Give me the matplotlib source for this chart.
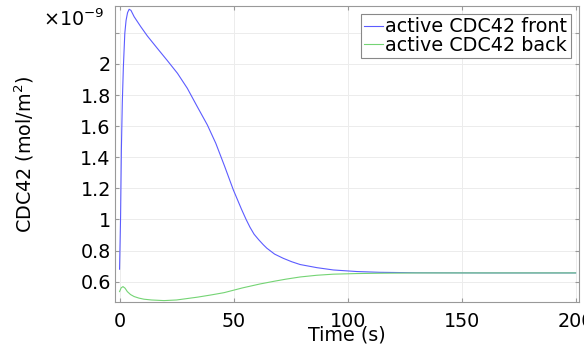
import matplotlib
matplotlib.use("Agg")
import matplotlib.pyplot as plt

# time (s) and concentrations (x 1e-9 mol/m^2)
t_front = [0, 0.45, 0.8, 1.2, 1.67, 2.3, 2.85, 3.5, 4.2, 5.0, 6.4, 9.3, 12.2,
           16.6, 21, 25.4, 29.7, 34.1, 38.5, 42.2, 46, 49.9, 53.5, 55.5, 57.2,
           59, 61, 63, 64.6, 68, 71.8, 75.5, 79.2, 86.5, 93.8, 104, 114, 130,
           160, 200]
front = [0.68, 1.02, 1.45, 1.75, 1.98, 2.197, 2.28, 2.33, 2.352, 2.345, 2.304,
         2.24, 2.18, 2.10, 2.021, 1.94, 1.844, 1.725, 1.608, 1.49, 1.345,
         1.19, 1.065, 1.0, 0.95, 0.905, 0.87, 0.838, 0.815, 0.777, 0.75,
         0.728, 0.71, 0.69, 0.675, 0.665, 0.66, 0.657, 0.656, 0.656]

t_back = [0, 0.7, 1.5, 2.4, 3.4, 4.8, 6.4, 8.5, 10.7, 14, 19.5, 25, 34.1, 40,
          45.8, 54, 61.6, 68, 73, 79.2, 86.5, 93.8, 104, 114, 130, 160, 200]
back = [0.536, 0.56, 0.568, 0.558, 0.536, 0.517, 0.504, 0.494, 0.487, 0.482,
        0.478, 0.482, 0.5, 0.514, 0.529, 0.56, 0.585, 0.603, 0.616, 0.63,
        0.641, 0.648, 0.652, 0.654, 0.656, 0.656, 0.656]

xticks = [0, 50, 100, 150, 200]
yticks = [0.6, 0.8, 1.0, 1.2, 1.4, 1.6, 1.8, 2.0, 2.2]
ytick_labels = ['0.6', '0.8', '1', '1.2', '1.4', '1.6', '1.8', '2', '']

fs = 13.8
fig = plt.figure(figsize=(5.84, 3.52), dpi=100)
ax = fig.add_axes([115/584, 1 - 302/352, 464/584, 296/352])

ax.plot(t_front, front, color='#5c5cff', lw=0.8, label='active CDC42 front')
ax.plot(t_back, back, color='#74d474', lw=0.8, label='active CDC42 back')

ax.set_xlim(-2, 201.5)
ax.set_ylim(0.469, 2.373)
ax.set_xticks(xticks)
ax.set_yticks(yticks)
ax.set_yticklabels(ytick_labels)
ax.grid(True, color='#ececec', lw=0.7)
ax.tick_params(direction='in', length=3, color='#999999', labelsize=fs,
               top=True, right=True)
ax.tick_params(axis='x', pad=7)
ax.tick_params(axis='y', pad=3)
for s in ax.spines.values():
    s.set_color('#999999')

ax.set_xlabel('Time (s)', fontsize=fs)
ax.xaxis.set_label_coords(0.5, -0.08)
ax.set_ylabel('CDC42 (mol/m$^2$)', fontsize=fs)
ax.yaxis.set_label_coords(-0.17, 0.5)

fig.text(104/584, 1 - 26/352, r'$\times10^{-9}$', fontsize=fs,
         ha='right', va='baseline')

leg = ax.legend(loc='upper right', fontsize=fs, handlelength=0.95,
                handletextpad=0.15, labelspacing=-0.05, borderpad=0.2,
                borderaxespad=0.4, fancybox=False, framealpha=1)
leg.get_frame().set_edgecolor('#888888')
leg.get_frame().set_linewidth(0.8)

fig.savefig('out.png', dpi=100)
